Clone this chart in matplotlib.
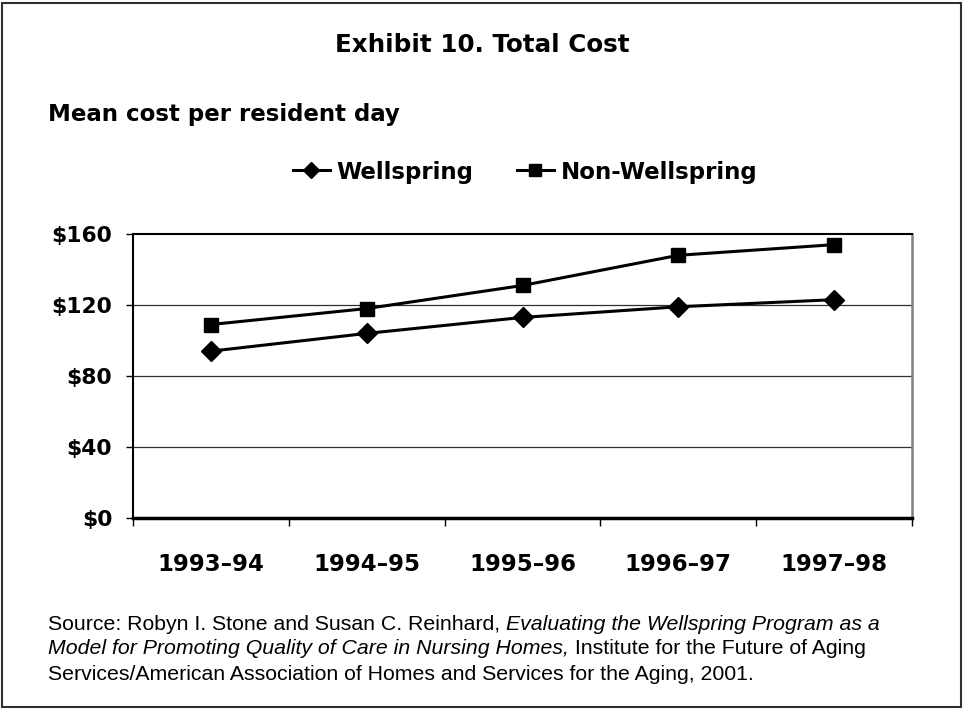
import numpy as np
import matplotlib.pyplot as plt
from matplotlib.patches import Rectangle

years = ["1993\u201394", "1994\u201395", "1995\u201396", "1996\u201397", "1997\u201398"]
wellspring = [94, 104, 113, 119, 123]
non_wellspring = [109, 118, 131, 148, 154]
yticks = [0, 40, 80, 120, 160]
ytick_labels = ["$0", "$40", "$80", "$120", "$160"]

title = "Exhibit 10. Total Cost"
subtitle = "Mean cost per resident day"

bold = "DejaVu Sans"
plain = "Liberation Sans"

# -*- figure

fig = plt.figure(figsize=(9.64, 7.09), dpi=100)
W, H = 964.0, 709.0
ax = fig.add_axes([133 / W, 1 - 518 / H, (912 - 133) / W, (518 - 234) / H])

x = np.arange(len(years))
ax.plot(x, wellspring, color="black", lw=2.2, marker="D", ms=10, label="Wellspring")
ax.plot(x, non_wellspring, color="black", lw=2.2, marker="s", ms=10, label="Non-Wellspring")

ax.set_xlim(-0.5, len(years) - 0.5)
ax.set_ylim(0, 160)
ax.set_yticks(yticks)
ax.set_yticklabels(ytick_labels, fontsize=15.7, fontweight="bold", family=bold)
ax.set_xticks(x)
ax.set_xticklabels(years, fontsize=16.5, fontweight="bold", family=bold)
ax.tick_params(axis="x", length=0, pad=25)
ax.tick_params(axis="y", length=5, width=1, pad=10)
# category boundaries carry the x tick marks
ax.set_xticks(np.arange(-0.5, len(years)), minor=True)
ax.tick_params(axis="x", which="minor", length=6, width=1, direction="out")

for v in yticks[1:-1]:
    ax.axhline(v, color="#303030", lw=0.9, zorder=0)

ax.spines["top"].set_linewidth(1.5)
ax.spines["left"].set_linewidth(1.5)
ax.spines["bottom"].set_linewidth(2.5)
ax.spines["right"].set_color("#808080")
ax.spines["right"].set_linewidth(1.8)

# -*- texts

fig.text(482 / W, 1 - 45 / H, title, ha="center", va="center",
         fontsize=17.7, fontweight="bold", family=bold)
fig.text(48 / W, 1 - 114 / H, subtitle, ha="left", va="center",
         fontsize=16.5, fontweight="bold", family=bold)

fig.legend(loc="center", bbox_to_anchor=(525 / W, 1 - 172 / H), ncol=2, frameon=False,
           prop={"family": bold, "weight": "bold", "size": 16.5},
           handlelength=1.6, handletextpad=0.3, columnspacing=1.9, markerscale=0.85)

lines = [
    [("Source: Robyn I. Stone and Susan C. Reinhard, ", "normal"),
     ("Evaluating the Wellspring Program as a", "italic")],
    [("Model for Promoting Quality of Care in Nursing Homes,", "italic"),
     (" Institute for the Future of Aging", "normal")],
    [("Services/American Association of Homes and Services for the Aging, 2001.", "normal")],
]
fig.canvas.draw()
renderer = fig.canvas.get_renderer()
for i, parts in enumerate(lines):
    xp = 48.0
    for txt, style in parts:
        t = fig.text(xp / W, 1 - (624 + 25 * i) / H, txt, ha="left", va="center",
                     fontsize=15.3, family=plain, style=style)
        xp += t.get_window_extent(renderer).width

# outer frame
fig.patches.append(Rectangle((2 / W, 2 / H), 959 / W, 704 / H, transform=fig.transFigure,
                             fill=False, edgecolor="#303030", lw=1.5))

fig.savefig("out.png", dpi=100)
